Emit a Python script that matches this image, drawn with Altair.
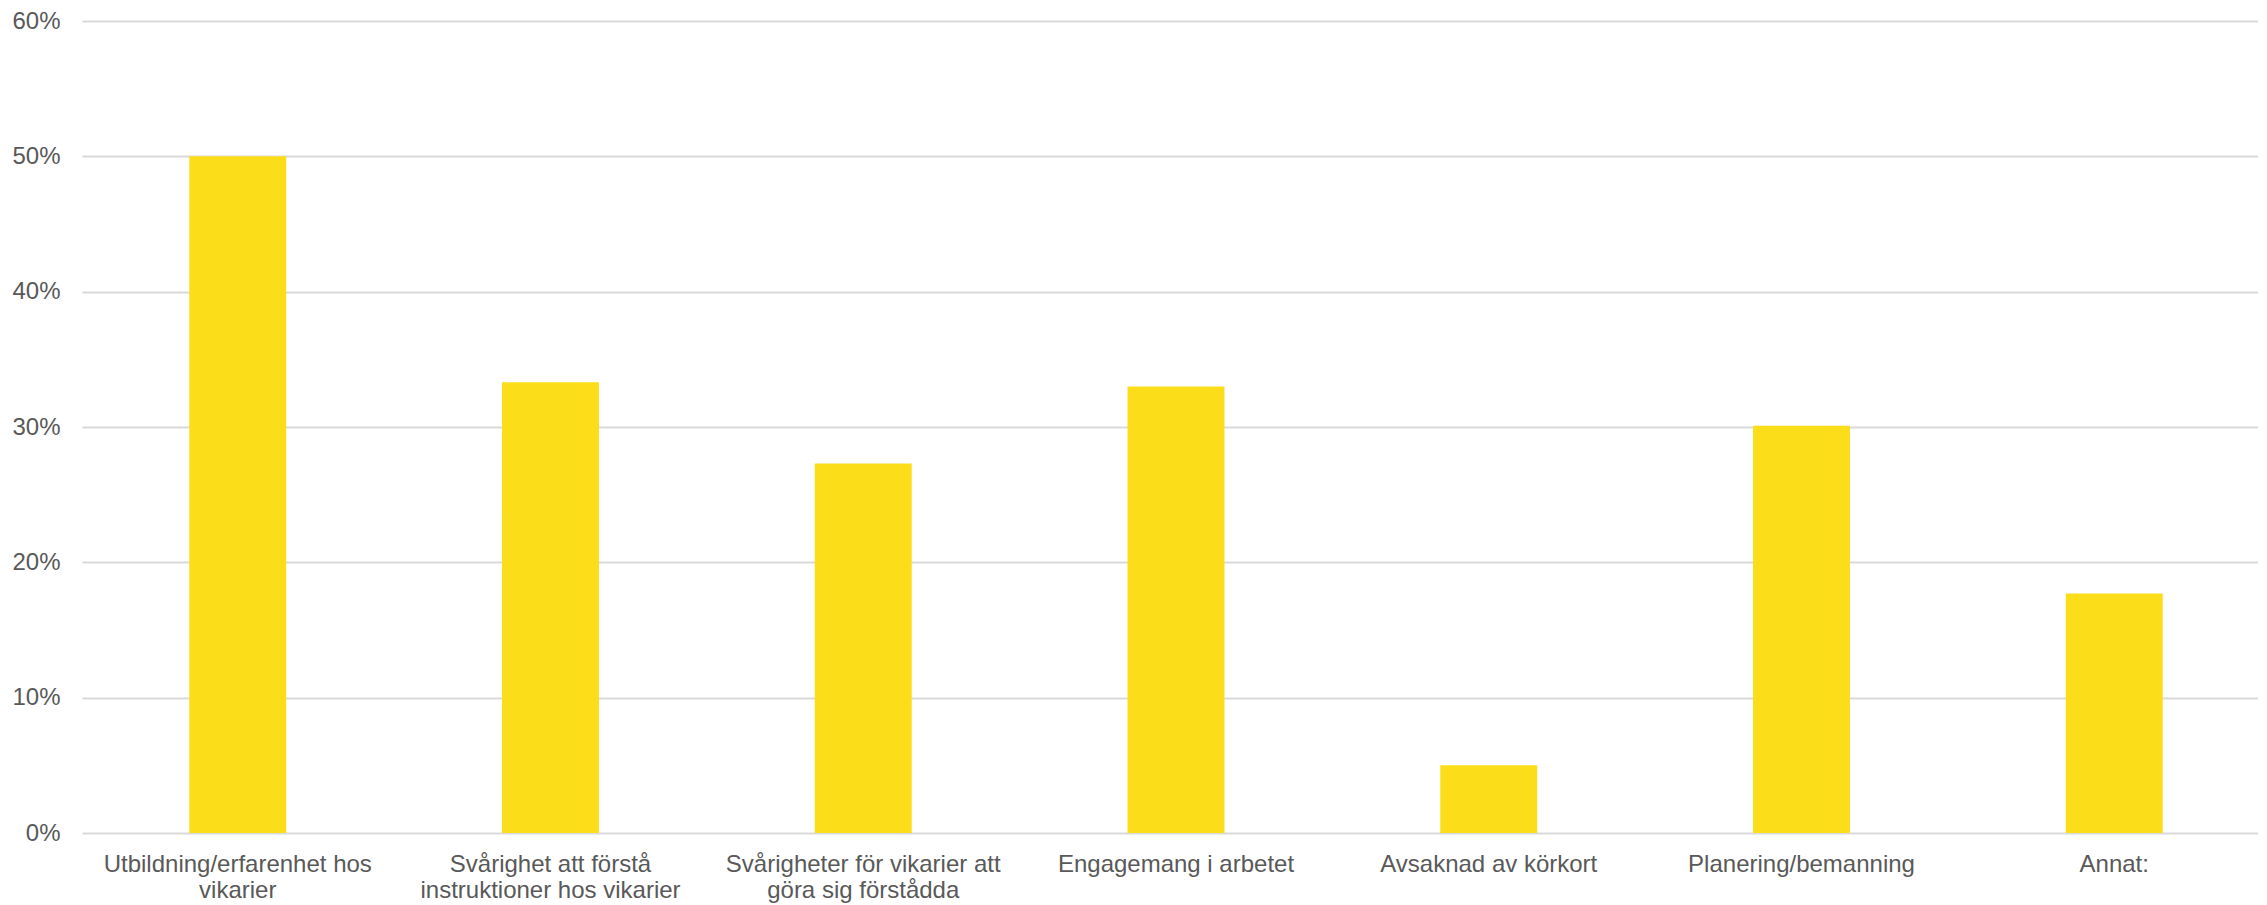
import altair as alt
import pandas as pd

categories = [
    "Utbildning/erfarenhet hos\nvikarier",
    "Svårighet att förstå\ninstruktioner hos vikarier",
    "Svårigheter för vikarier att\ngöra sig förstådda",
    "Engagemang i arbetet",
    "Avsaknad av körkort",
    "Planering/bemanning",
    "Annat:",
]
values = [0.500, 0.333, 0.273, 0.330, 0.050, 0.301, 0.177]
y_ticks = [0, 0.1, 0.2, 0.3, 0.4, 0.5, 0.6]

df = pd.DataFrame({"cat": categories, "val": values})

FONT = "Liberation Sans"
GREY = "#595959"

chart = (
    alt.Chart(df, view=alt.ViewBackground(stroke="transparent", strokeWidth=0))
    .mark_bar(color="#FCDD1A")
    .encode(
        x=alt.X(
            "cat:N",
            sort=categories,
            title=None,
            scale=alt.Scale(range=[0, 2188], paddingInner=0.69, paddingOuter=0.343),
            axis=alt.Axis(
                labelAngle=0,
                labelExpr="split(datum.label, '\\n')",
                labelFont=FONT,
                labelFontSize=24,
                labelColor=GREY,
                labelLineHeight=26,
                labelPadding=19,
                labelLimit=400,
                ticks=False,
                domain=False,
                grid=False,
            ),
        ),
        y=alt.Y(
            "val:Q",
            title=None,
            scale=alt.Scale(domain=[0, 0.6], nice=False),
            axis=alt.Axis(
                values=y_ticks,
                format=".0%",
                labelFont=FONT,
                labelFontSize=24,
                labelColor=GREY,
                labelPadding=22,
                ticks=False,
                domain=True,
                domainColor="transparent",
                domainOpacity=0,
                domainWidth=0,
                grid=True,
                gridColor="#d9d9d9",
                gridWidth=2,
            ),
        ),
    )
    .properties(
        width=2176,
        height=812,
        autosize=alt.AutoSizeParams(type="none"),
        padding={"left": 74, "top": 13, "right": 0, "bottom": 70},
    )
    .configure_view(stroke="transparent", strokeWidth=0)
    .configure(background="white")
)

chart.save("out.html", embed_options={"renderer": "svg", "actions": False})
